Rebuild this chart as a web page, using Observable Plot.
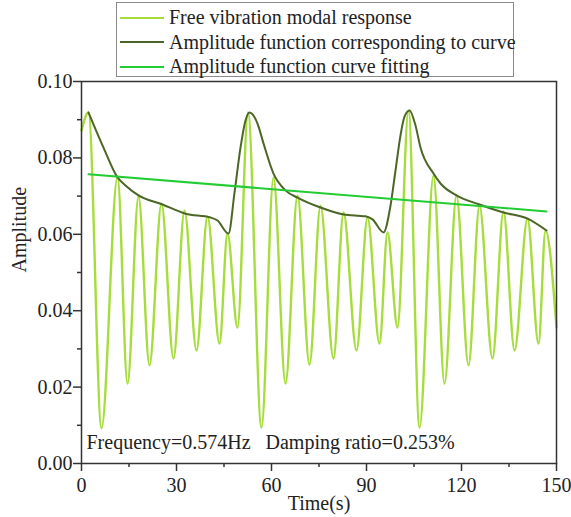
<!DOCTYPE html>
<html>
<head>
<meta charset="utf-8">
<script src="https://cdn.jsdelivr.net/npm/d3@7"></script>
<script src="https://cdn.jsdelivr.net/npm/@observablehq/plot@0.6"></script>
<style>
  html, body { margin: 0; padding: 0; background: #fff; }
  #wrap { position: relative; width: 571px; height: 517px; font-family: "Liberation Serif", "Times New Roman", serif; }
  #legend { position: absolute; left: 116px; top: 2px; width: 398px; height: 75px; border: 1px solid #8a8a8a; background: #fff; box-sizing: border-box; }
  .row { position: absolute; left: 0; height: 25px; display: flex; align-items: center; font-size: 20px; color: #222; white-space: nowrap; }
  .row svg { margin-left: 3px; margin-right: 5px; }
</style>
</head>
<body>
<div id="wrap"></div>
<script>
// Free vibration modal response (extrema)
const timeFree = [0, 2.21, 6.32, 11.37, 14.53, 18.0, 21.47, 25.26, 29.05, 32.53, 36.32, 39.79, 43.58, 46.1, 49.26,
  52.58, 56.84, 60.63, 64.42, 68.21, 72.0, 75.47, 79.58, 82.74, 86.84, 90.32, 94.11, 96.63, 99.79,
  103.26, 106.74, 111.16, 114.63, 118.42, 122.21, 125.68, 129.79, 133.26, 136.74, 140.84, 144.32, 146.53, 150];
const valFree = [0.0872, 0.0919, 0.0092, 0.0751, 0.0209, 0.0699, 0.0257, 0.0681, 0.0275, 0.0662, 0.0296, 0.0647, 0.0314, 0.0602, 0.0356,
  0.0919, 0.0094, 0.0749, 0.0209, 0.0702, 0.0259, 0.0675, 0.0275, 0.0657, 0.0296, 0.0644, 0.0314, 0.0605, 0.0356,
  0.0924, 0.0094, 0.0754, 0.0209, 0.0702, 0.0257, 0.0675, 0.0275, 0.0660, 0.0296, 0.0641, 0.0314, 0.0610, 0.0356];

// Amplitude function corresponding to curve
const timeEnv = [2.21, 6.95, 11.37, 13.89, 18.0, 25.58, 32.84, 40.74, 42.95, 46.42, 48.32, 50.21, 51.79, 53.05,
  55.58, 57.47, 60.63, 64.42, 68.21, 75.47, 82.74, 89.68, 91.89, 95.37, 97.58, 99.16, 100.74, 102.0, 103.58,
  105.47, 107.05, 111.16, 113.37, 118.42, 125.68, 133.26, 140.84, 146.84];
const valEnv = [0.0919, 0.0827, 0.0749, 0.0728, 0.0702, 0.0678, 0.0654, 0.0644, 0.0636, 0.0602, 0.0709, 0.0827, 0.0898, 0.0919,
  0.0890, 0.0838, 0.0759, 0.0715, 0.0696, 0.0670, 0.0652, 0.0647, 0.0639, 0.0605, 0.0675, 0.0767, 0.0859, 0.0908, 0.0924,
  0.0885, 0.0827, 0.0759, 0.0733, 0.0702, 0.0678, 0.0657, 0.0641, 0.0610];

// Amplitude function curve fitting
const timeFit = [2.21, 146.84];
const valFit = [0.0757, 0.0660];

const xTicks = [0, 30, 60, 90, 120, 150];
const xMinor = [15, 45, 75, 105, 135];
const yTicks = [0, 0.02, 0.04, 0.06, 0.08, 0.10];
const yMinor = [0.01, 0.03, 0.05, 0.07, 0.09];

const seriesNames = ["Free vibration modal response", "Amplitude function corresponding to curve", "Amplitude function curve fitting"];
const seriesColors = ["#a6dc3c", "#4b6626", "#22cc33"];

const free = timeFree.map((t, i) => ({t, v: valFree[i]}));
const env = timeEnv.map((t, i) => ({t, v: valEnv[i]}));
const fit = timeFit.map((t, i) => ({t, v: valFit[i]}));

const axisColor = "#333";
const chart = Plot.plot({
  width: 571,
  height: 517,
  marginLeft: 81,
  marginRight: 15,
  marginTop: 81,
  marginBottom: 54,
  style: {fontFamily: "'Liberation Serif', 'Times New Roman', serif", fontSize: "20px", color: "#222", background: "white"},
  x: {domain: [0, 150]},
  y: {domain: [0, 0.1]},
  marks: [
    Plot.line(free, {x: "t", y: "v", stroke: seriesColors[0], strokeWidth: 2.4, curve: "monotone-x"}),
    Plot.line(env, {x: "t", y: "v", stroke: seriesColors[1], strokeWidth: 2, curve: "monotone-x"}),
    Plot.line(fit, {x: "t", y: "v", stroke: seriesColors[2], strokeWidth: 2}),
    Plot.axisX(xTicks, {tickSize: 8, tickPadding: 6, tickFormat: d => String(d), stroke: axisColor, strokeWidth: 1.5, label: null, fill: "#222"}),
    Plot.axisX(xMinor, {tickSize: 4, tickFormat: () => "", stroke: axisColor, strokeWidth: 1.5, label: null}),
    Plot.axisY(yTicks, {tickSize: 8, tickPadding: 1, tickFormat: d => d.toFixed(2), stroke: axisColor, strokeWidth: 1.5, label: null, fill: "#222"}),
    Plot.axisY(yMinor, {tickSize: 4, tickFormat: () => "", stroke: axisColor, strokeWidth: 1.5, label: null}),
    Plot.frame({stroke: axisColor, strokeWidth: 1.5}),
    Plot.text(["Time(s)"], {frameAnchor: "bottom", dy: 40, lineAnchor: "middle", fill: "#222", fontSize: 20}),
    Plot.text(["Amplitude"], {frameAnchor: "left", dx: -62, rotate: -90, lineAnchor: "middle", fill: "#222", fontSize: 20}),
    Plot.text(["Frequency=0.574Hz\u00a0\u00a0\u00a0Damping ratio=0.253%"], {frameAnchor: "bottom-left", dx: 5, dy: -21, textAnchor: "start", lineAnchor: "middle", fill: "#222", fontSize: 20})
  ]
});

const wrap = document.getElementById("wrap");
wrap.appendChild(chart);

const legend = document.createElement("div");
legend.id = "legend";
seriesNames.forEach((name, i) => {
  const row = document.createElement("div");
  row.className = "row";
  row.style.top = (2 + i * 24.5) + "px";
  row.innerHTML = `<svg width="44" height="10"><line x1="0" y1="5" x2="44" y2="5" stroke="${seriesColors[i]}" stroke-width="2"/></svg><span>${name}</span>`;
  legend.appendChild(row);
});
wrap.appendChild(legend);
</script>
</body>
</html>
